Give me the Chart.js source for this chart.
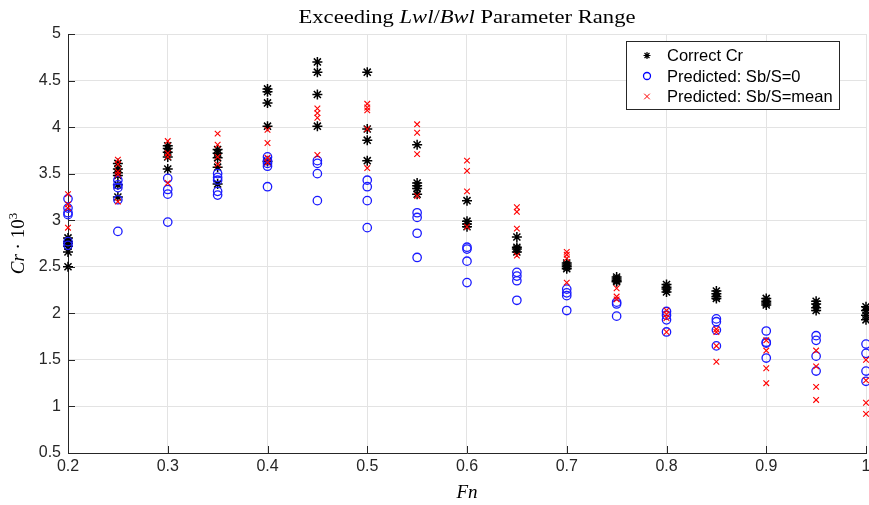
<!DOCTYPE html>
<html>
<head>
<meta charset="utf-8">
<script src="https://cdn.jsdelivr.net/npm/chart.js@4/dist/chart.umd.min.js"></script>
<style>
html,body{margin:0;padding:0;background:#fff;}
#c{display:block;}
</style>
</head>
<body>
<canvas id="c" width="869" height="505"></canvas>
<script>
// ---- Data ----
const fnValues = [0.2, 0.25, 0.3, 0.35, 0.4, 0.45, 0.5, 0.55, 0.6, 0.65, 0.7, 0.75, 0.8, 0.85, 0.9, 0.95, 1.0];

const correctCr = [
  [2.81, 2.77, 2.75, 2.72, 2.66, 2.5],
  [3.61, 3.55, 3.51, 3.48, 3.38, 3.25],
  [3.8, 3.77, 3.73, 3.68, 3.55],
  [3.76, 3.72, 3.67, 3.57, 3.39],
  [4.41, 4.38, 4.26, 4.01, 3.63],
  [4.7, 4.59, 4.35, 4.01],
  [4.59, 3.98, 3.86, 3.64],
  [3.81, 3.4, 3.37, 3.34, 3.28],
  [3.21, 2.99, 2.96, 2.93],
  [2.82, 2.71, 2.69, 2.66],
  [2.54, 2.52, 2.5, 2.48],
  [2.39, 2.37, 2.35, 2.34],
  [2.31, 2.28, 2.26, 2.23],
  [2.24, 2.21, 2.18, 2.16],
  [2.16, 2.13, 2.11, 2.09],
  [2.13, 2.1, 2.06, 2.03],
  [2.07, 2.03, 1.98, 1.93]
];

const predictedSb0 = [
  [3.23, 3.13, 3.08, 3.06, 2.77, 2.73],
  [3.43, 3.38, 3.35, 3.22, 2.88],
  [3.45, 3.33, 3.28, 2.98],
  [3.5, 3.46, 3.43, 3.31, 3.27],
  [3.68, 3.64, 3.61, 3.58, 3.36],
  [3.64, 3.61, 3.5, 3.21],
  [3.43, 3.36, 3.21, 2.92],
  [3.08, 3.03, 2.86, 2.6],
  [2.71, 2.69, 2.56, 2.33],
  [2.44, 2.4, 2.35, 2.14],
  [2.26, 2.22, 2.19, 2.03],
  [2.12, 2.1, 1.97],
  [2.02, 1.98, 1.93, 1.8],
  [1.94, 1.91, 1.82, 1.65],
  [1.81, 1.69, 1.68, 1.52],
  [1.76, 1.71, 1.54, 1.38],
  [1.67, 1.57, 1.38, 1.27]
];

const predictedMean = [
  [3.28, 3.17, 3.13, 2.92],
  [3.65, 3.6, 3.52, 3.49, 3.2],
  [3.85, 3.72, 3.68, 3.4],
  [3.93, 3.81, 3.68, 3.6],
  [3.97, 3.83, 3.67, 3.62],
  [4.2, 4.15, 4.1, 3.7],
  [4.25, 4.21, 4.18, 3.98, 3.56],
  [4.03, 3.94, 3.71, 3.26],
  [3.64, 3.53, 3.31, 2.93],
  [3.14, 3.09, 2.91, 2.62],
  [2.66, 2.63, 2.59, 2.33],
  [2.27, 2.18, 2.15],
  [2.03, 1.99, 1.95, 1.8],
  [1.83, 1.8, 1.65, 1.48],
  [1.71, 1.6, 1.41, 1.25],
  [1.6, 1.43, 1.21, 1.07],
  [1.5, 1.28, 1.04, 0.92]
];

const seriesLabels = ['Correct Cr', 'Predicted: Sb/S=0', 'Predicted: Sb/S=mean'];
const xTickValues = [0.2, 0.3, 0.4, 0.5, 0.6, 0.7, 0.8, 0.9, 1];
const xTickLabels = ['0.2', '0.3', '0.4', '0.5', '0.6', '0.7', '0.8', '0.9', '1'];
const yTickValues = [0.5, 1, 1.5, 2, 2.5, 3, 3.5, 4, 4.5, 5];

function toPoints(groups) {
  const pts = [];
  groups.forEach((vals, i) => vals.forEach(v => pts.push({x: fnValues[i], y: v})));
  return pts;
}

const tickFont = {family: '"Liberation Sans", Arial, sans-serif', size: 16};
const fmt = v => String(Math.round(v * 10) / 10);

const textPlugin = {
  id: 'texts',
  afterDraw(chart) {
    const ctx = chart.ctx;
    const ca = chart.chartArea;
    const xs = chart.scales.x, ys = chart.scales.y;
    ctx.save();
    // inward tick marks
    ctx.strokeStyle = '#262626';
    ctx.lineWidth = 1;
    ctx.beginPath();
    xTickValues.forEach(v => {
      const px = Math.round(xs.getPixelForValue(v)) + 0.5;
      ctx.moveTo(px, ca.bottom); ctx.lineTo(px, ca.bottom - 7);
    });
    yTickValues.forEach(v => {
      const py = Math.round(ys.getPixelForValue(v)) + 0.5;
      ctx.moveTo(ca.left, py); ctx.lineTo(ca.left + 7, py);
    });
    ctx.stroke();

    // x tick labels (placed through the x scale)
    ctx.fillStyle = '#262626';
    ctx.font = '16px "Liberation Sans", Arial, sans-serif';
    ctx.textAlign = 'center';
    ctx.textBaseline = 'middle';
    xTickValues.forEach((v, i) => ctx.fillText(xTickLabels[i], xs.getPixelForValue(v), ca.bottom + 14));

    // title with mixed styles (stretched horizontally to mimic the wide LaTeX font)
    const serif = '"Liberation Serif", "DejaVu Serif", serif';
    const parts = [
      {t: 'Exceeding ', f: '19px ' + serif},
      {t: 'Lwl', f: 'italic 19px ' + serif},
      {t: '/', f: '19px ' + serif},
      {t: 'Bwl', f: 'italic 19px ' + serif},
      {t: ' Parameter Range', f: '19px ' + serif}
    ];
    let total = 0;
    parts.forEach(p => { ctx.font = p.f; p.w = ctx.measureText(p.t).width; total += p.w; });
    const targetW = 337;
    const sx = targetW / total;
    ctx.save();
    ctx.translate((ca.left + ca.right) / 2 - targetW / 2, 23);
    ctx.scale(sx, 1);
    let x = 0;
    ctx.fillStyle = '#000';
    ctx.textBaseline = 'alphabetic';
    ctx.textAlign = 'left';
    parts.forEach(p => { ctx.font = p.f; ctx.fillText(p.t, x, 0); x += p.w; });
    ctx.restore();

    // x axis title
    ctx.fillStyle = '#000';
    ctx.font = 'italic 19px ' + serif;
    ctx.textAlign = 'center';
    ctx.textBaseline = 'alphabetic';
    ctx.fillText('Fn', (ca.left + ca.right) / 2, 498);

    // y axis title rotated
    ctx.save();
    ctx.translate(24, (ca.top + ca.bottom) / 2);
    ctx.rotate(-Math.PI / 2);
    const yparts = [
      {t: 'Cr', f: 'italic 19px ' + serif, dy: 0},
      {t: ' \u00B7 10', f: '19px ' + serif, dy: 0},
      {t: '3', f: '13px ' + serif, dy: -7}
    ];
    let tw = 0;
    yparts.forEach(p => { ctx.font = p.f; p.w = ctx.measureText(p.t).width; tw += p.w; });
    let yx = -tw / 2;
    ctx.textAlign = 'left';
    yparts.forEach(p => { ctx.font = p.f; ctx.fillText(p.t, yx, p.dy); yx += p.w; });
    ctx.restore();

    // legend
    const lx = 626, ly = 41, lw = 213, lh = 68;
    ctx.fillStyle = '#fff';
    ctx.fillRect(lx, ly, lw, lh);
    ctx.strokeStyle = '#262626';
    ctx.lineWidth = 1;
    ctx.strokeRect(lx + 0.5, ly + 0.5, lw, lh);
    const rows = [55.5, 76, 96.5];
    const mx = 647;
    // star
    ctx.strokeStyle = '#000';
    ctx.lineWidth = 1.2;
    ctx.beginPath();
    const r1 = 3.5, yy0 = rows[0];
    ctx.moveTo(mx - r1, yy0); ctx.lineTo(mx + r1, yy0);
    ctx.moveTo(mx, yy0 - r1); ctx.lineTo(mx, yy0 + r1);
    const d = r1 * 0.707;
    ctx.moveTo(mx - d, yy0 - d); ctx.lineTo(mx + d, yy0 + d);
    ctx.moveTo(mx - d, yy0 + d); ctx.lineTo(mx + d, yy0 - d);
    ctx.stroke();
    // circle
    ctx.strokeStyle = '#0000ff';
    ctx.lineWidth = 1.3;
    ctx.beginPath();
    ctx.arc(mx, rows[1], 3.5, 0, Math.PI * 2);
    ctx.stroke();
    // cross
    ctx.strokeStyle = '#ff0000';
    ctx.lineWidth = 1;
    ctx.beginPath();
    const c = 2.8;
    ctx.moveTo(mx - c, rows[2] - c); ctx.lineTo(mx + c, rows[2] + c);
    ctx.moveTo(mx - c, rows[2] + c); ctx.lineTo(mx + c, rows[2] - c);
    ctx.stroke();
    ctx.fillStyle = '#000';
    ctx.font = '16.5px "Liberation Sans", Arial, sans-serif';
    ctx.textBaseline = 'middle';
    ctx.textAlign = 'left';
    seriesLabels.forEach((s, i) => ctx.fillText(s, 667, rows[i] + 1));
    ctx.restore();
  }
};

new Chart(document.getElementById('c'), {
  type: 'scatter',
  data: {
    datasets: [
      {
        label: seriesLabels[0],
        data: toPoints(correctCr),
        pointStyle: 'star',
        radius: 5,
        borderColor: '#000000',
        backgroundColor: '#000000',
        borderWidth: 1.5,
        order: 3,
        clip: false
      },
      {
        label: seriesLabels[1],
        data: toPoints(predictedSb0),
        pointStyle: 'circle',
        radius: 4.2,
        borderColor: '#1a1aff',
        backgroundColor: 'rgba(0,0,0,0)',
        borderWidth: 1.3,
        order: 2,
        clip: false
      },
      {
        label: seriesLabels[2],
        data: toPoints(predictedMean),
        pointStyle: 'crossRot',
        radius: 4,
        borderColor: '#ff0000',
        backgroundColor: '#ff0000',
        borderWidth: 1.1,
        order: 1,
        clip: false
      }
    ]
  },
  options: {
    responsive: false,
    animation: false,
    devicePixelRatio: 1,
    layout: {autoPadding: false, padding: {top: 34, right: 3, left: 0, bottom: 0}},
    plugins: {legend: {display: false}, title: {display: false}, tooltip: {enabled: false}},
    scales: {
      x: {
        type: 'linear',
        min: 0.2, max: 1,
        afterBuildTicks(s) { s.ticks = xTickValues.map(v => ({value: v})); },
        ticks: {display: false},
        grid: {color: '#e3e3e3', drawTicks: false},
        border: {color: '#262626', width: 1},
        afterFit(s) { s.height = 52; }
      },
      y: {
        type: 'linear',
        min: 0.5, max: 5,
        afterBuildTicks(s) { s.ticks = yTickValues.map(v => ({value: v})); },
        ticks: {font: tickFont, color: '#262626', padding: 7, autoSkip: false, callback: v => fmt(v)},
        grid: {color: '#e3e3e3', drawTicks: false},
        border: {color: '#262626', width: 1},
        afterFit(s) { s.width = 68; }
      }
    }
  },
  plugins: [textPlugin]
});
</script>
</body>
</html>
